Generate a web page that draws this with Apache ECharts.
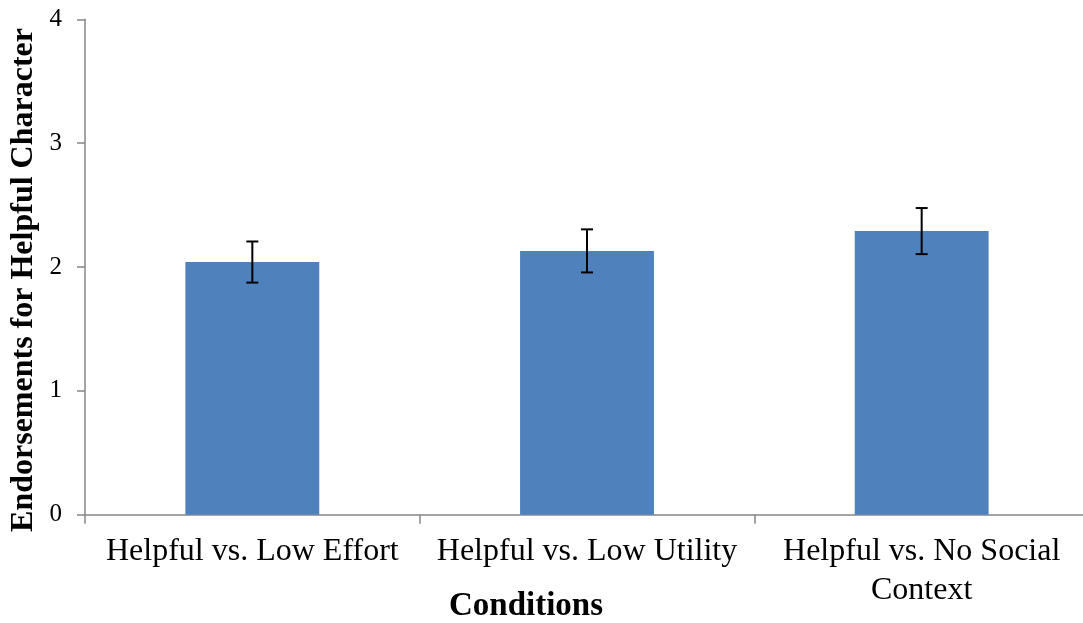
<!DOCTYPE html>
<html>
<head>
<meta charset="utf-8">
<script src="https://cdn.jsdelivr.net/npm/echarts@6/dist/echarts.min.js"></script>
<style>
html,body{margin:0;padding:0;background:#fff;overflow:hidden;}
#chart{width:1090px;height:623px;}
</style>
</head>
<body>
<div id="chart"></div>
<script>
var categories = ['Helpful vs. Low Effort', 'Helpful vs. Low Utility', 'Helpful vs. No Social\nContext'];
var means = [2.04, 2.13, 2.29];
var errors = [0.166, 0.174, 0.186];
var yTicks = [0, 1, 2, 3, 4];
var xTitle = 'Conditions';
var yTitle = 'Endorsements for Helpful Character';

var errData = means.map(function (m, i) { return [i, m - errors[i], m + errors[i]]; });
var chart = echarts.init(document.getElementById('chart'));
var font = '"Liberation Serif", "Times New Roman", serif';
var axisColor = '#878787';
chart.setOption({
  animation: false,
  backgroundColor: '#fff',
  grid: { left: 85, top: 19.3, width: 1004, bottom: 108.3, containLabel: false },
  xAxis: {
    type: 'category',
    data: categories,
    axisLine: { lineStyle: { color: axisColor, width: 1.5 } },
    axisTick: { show: true, length: 9, lineStyle: { color: axisColor, width: 1.5 } },
    axisLabel: { color: '#000', fontFamily: font, fontSize: 32, lineHeight: 39, margin: 17, interval: 0 },
    splitLine: { show: false }
  },
  yAxis: {
    type: 'value',
    min: yTicks[0], max: yTicks[yTicks.length - 1], interval: 1,
    axisLine: { show: true, lineStyle: { color: axisColor, width: 1.5 } },
    axisTick: { show: true, length: 8, lineStyle: { color: axisColor, width: 1.5 } },
    axisLabel: { color: '#000', fontFamily: font, fontSize: 25, margin: 23 },
    splitLine: { show: false }
  },
  graphic: [
    { type: 'text', x: 526, y: 606,
      style: { text: xTitle, font: 'bold 33px ' + font, fill: '#000', textAlign: 'center', textVerticalAlign: 'middle' } },
    { type: 'text', x: 24, y: 280, rotation: Math.PI / 2,
      style: { text: yTitle, font: 'bold 32px ' + font, fill: '#000', textAlign: 'center', textVerticalAlign: 'middle' } }
  ],
  series: [
    { type: 'bar', data: means, barWidth: '40%', itemStyle: { color: '#4F81BD' } },
    { type: 'custom', data: errData, z: 10,
      renderItem: function (params, api) {
        var x = api.value(0);
        var lo = api.coord([x, api.value(1)]);
        var hi = api.coord([x, api.value(2)]);
        var w = 6;
        var st = { stroke: '#000', lineWidth: 2 };
        return { type: 'group', children: [
          { type: 'line', shape: { x1: hi[0], y1: hi[1], x2: lo[0], y2: lo[1] }, style: st },
          { type: 'line', shape: { x1: hi[0] - w, y1: hi[1], x2: hi[0] + w, y2: hi[1] }, style: st },
          { type: 'line', shape: { x1: lo[0] - w, y1: lo[1], x2: lo[0] + w, y2: lo[1] }, style: st }
        ] };
      }
    }
  ]
});
</script>
</body>
</html>
